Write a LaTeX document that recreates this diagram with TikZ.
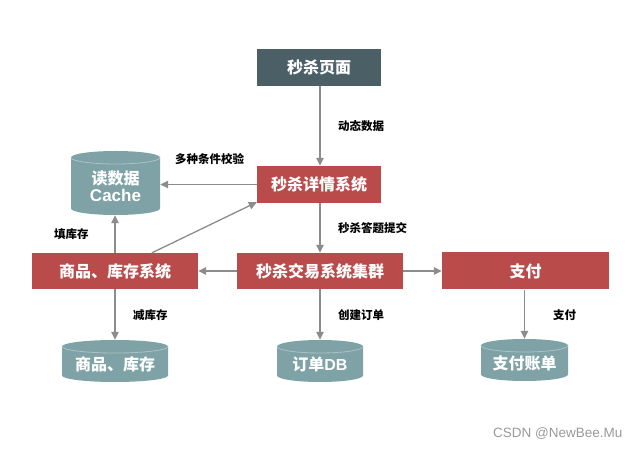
\documentclass[tikz,border=0pt]{standalone}
\usepackage{fontspec}
\setmainfont{Noto Sans CJK SC}
\newfontfamily\wmfont{Liberation Sans}
\usetikzlibrary{arrows.meta}
\definecolor{darkbox}{HTML}{4B5F67}
\definecolor{redbox}{HTML}{B94C4B}
\definecolor{cylcol}{HTML}{7FA2A7}
\definecolor{cylrimcol}{HTML}{A9C2C5}
\definecolor{arrowcol}{HTML}{8C8C8C}
\definecolor{wmcol}{HTML}{9A9A9A}
\tikzset{
  sysbox/.style={fill=redbox, text=white, font=\fontsize{16}{19}\selectfont\bfseries, inner sep=0pt},
  topbox/.style={fill=darkbox, text=white, font=\fontsize{16}{19}\selectfont\bfseries, inner sep=0pt},
  cyltext/.style={text=white, font=\fontsize{16}{18}\selectfont\bfseries, inner sep=0pt, align=center},
  conn/.style={draw=arrowcol, line width=1.3pt, -{Triangle[length=8pt,width=7.5pt]}},
  lbl/.style={font=\fontsize{11.5}{13}\selectfont\bfseries, inner sep=0pt, anchor=west},
}
\newcommand\lat[1]{{\wmfont\bfseries #1}}
\newcommand\mycyl[6]{%
  \fill[cylcol] ({#2-#4/2},{#3+#5/2-6.5}) arc[start angle=180,end angle=0,x radius={#4/2},y radius=6.5]
     -- ({#2+#4/2},{#3-#5/2+6.5}) arc[start angle=0,end angle=-180,x radius={#4/2},y radius=6.5] -- cycle;
  \draw[cylrimcol, line width=0.8pt] ({#2-#4/2},{#3+#5/2-6.5}) arc[start angle=180,end angle=360,x radius={#4/2},y radius=6.5];
  \node[minimum width=#4, minimum height=#5, inner sep=0pt] (#1) at (#2,#3) {};
  \node[cyltext] (#1-t) at ([yshift=-3.5pt]#1.center) {#6};}
\begin{document}
\begin{tikzpicture}[x=1pt,y=1pt]
\useasboundingbox (0,0) rectangle (640,455);
\fill[white] (0,0) rectangle (640,455);
% boxes
\node[topbox, minimum width=124, minimum height=37] (page) at (319,387.5) {秒杀页面};
\node[sysbox, minimum width=124, minimum height=37] (detail) at (319,270.5) {秒杀详情系统};
\node[sysbox, minimum width=166, minimum height=36] (goods) at (115,184) {商品、库存系统};
\node[sysbox, minimum width=166, minimum height=36] (trade) at (320,184) {秒杀交易系统集群};
\node[sysbox, minimum width=167, minimum height=37] (pay) at (525.5,184) {支付};
% cylinders
\mycyl{cache}{115.5}{272}{89}{64}{读数据\\[-1pt]\lat{\fontsize{17}{19}\selectfont Cache}}
\mycyl{stock}{115}{94}{106}{42}{商品、库存}
\mycyl{order}{320}{94}{86}{42}{订单\lat{DB}}
\mycyl{bill}{524.5}{95}{87}{42}{支付账单}
% connectors
\draw[conn] (page.south -| 320,0) -- (detail.north -| 320,0);
\draw[conn] (detail.south -| 320,0) -- (trade.north);
\draw[conn] (detail.west) -- (detail.west -| cache.east);
\draw[conn] (goods.north) -- (cache.south -| goods.north);
\draw[conn] ([xshift=37pt]goods.north) -- ([yshift=1pt]detail.south west);
\draw[conn] (trade.west) -- (goods.east);
\draw[conn] (trade.east) -- (pay.west);
\draw[conn] (goods.south) -- (stock.north);
\draw[conn] (trade.south) -- (order.north);
\draw[conn] (pay.south -| bill.north) -- (bill.north);
% labels
\node[lbl] (l1) at (338,329) {动态数据};
\node[lbl] (l2) at (175,296) {多种条件校验};
\node[lbl] (l3) at (338,227) {秒杀答题提交};
\node[lbl] (l4) at (54,221) {填库存};
\node[lbl] (l5) at (133,140) {减库存};
\node[lbl] (l6) at (338,140) {创建订单};
\node[lbl] (l7) at (553,140) {支付};
\node[font=\wmfont\fontsize{13.5}{15}\selectfont, text=wmcol, anchor=west, inner sep=0pt] (wm) at (493,21) {CSDN @NewBee.Mu};
\end{tikzpicture}
\end{document}
